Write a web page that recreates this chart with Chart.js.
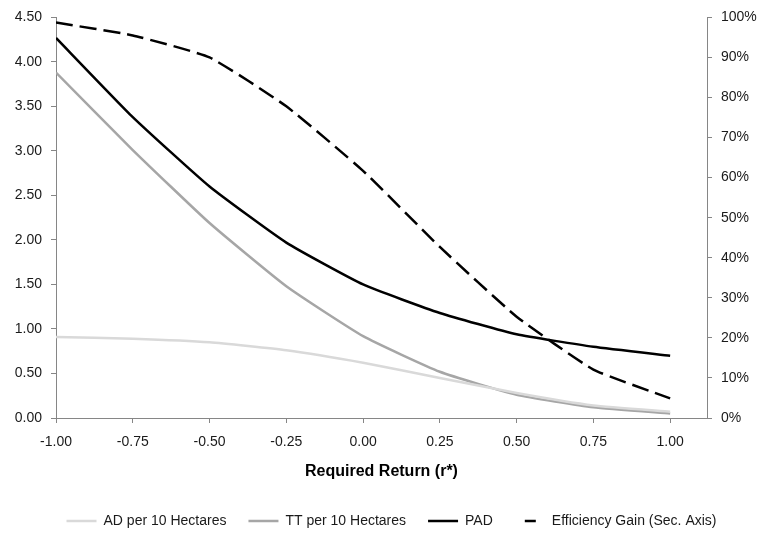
<!DOCTYPE html>
<html lang="en">
    <head>
        <meta charset="UTF-8" />
        <title>Required Return vs Efficiency Gain</title>
        <script src="https://cdn.jsdelivr.net/npm/chart.js@4"></script>
        <style>
            html, body { margin: 0; padding: 0; background: #fff; }
        </style>
    </head>
    <body>
        <canvas id="myChart" width="759" height="534"></canvas>

        <script>
            // values
            const requiredReturn = [-1, -0.75, -0.5, -0.25, 0, 0.25, 0.5, 0.75, 1];
            const adPer10Ha = [0.91, 0.89, 0.85, 0.76, 0.62, 0.45, 0.28, 0.14, 0.07];
            const ttPer10Ha = [3.88, 3.01, 2.19, 1.48, 0.92, 0.52, 0.26, 0.12, 0.05];
            const pad = [4.27, 3.38, 2.6, 1.97, 1.5, 1.18, 0.94, 0.8, 0.7];
            const efficiencyGain = [0.987, 0.955, 0.9, 0.778, 0.617, 0.427, 0.253, 0.121, 0.049];

            const axisGrey = "#868686";
            const tickFont = { family: "Liberation Sans", size: 14 };

            const toPoints = (ys) => ys.map((y, i) => ({ x: requiredReturn[i], y: y }));

            // fixed legend height so the plot area lands where the reference has it
            const legendHeightPlugin = {
                id: "legendHeight",
                beforeInit(chart) {
                    const originalFit = chart.legend.fit;
                    chart.legend.fit = function fit() {
                        originalFit.bind(chart.legend)();
                        this.height = 42;
                    };
                },
                afterLayout(chart) {
                    // the reference key sits a little right of centre
                    chart.legend.left += 12;
                    chart.legend.right += 12;
                },
            };
            Chart.register(legendHeightPlugin);

            const config = {
                type: "line",
                data: {
                    datasets: [
                        {
                            label: "AD per 10 Hectares",
                            data: toPoints(adPer10Ha),
                            borderColor: "#d9d9d9",
                            borderWidth: 2.5,
                            yAxisID: "y",
                        },
                        {
                            label: "TT per 10 Hectares",
                            data: toPoints(ttPer10Ha),
                            borderColor: "#a6a6a6",
                            borderWidth: 2.5,
                            yAxisID: "y",
                        },
                        {
                            label: "PAD",
                            data: toPoints(pad),
                            borderColor: "#000000",
                            borderWidth: 2.5,
                            yAxisID: "y",
                        },
                        {
                            label: "Efficiency Gain (Sec. Axis)",
                            data: toPoints(efficiencyGain),
                            borderColor: "#000000",
                            borderWidth: 2.5,
                            borderDash: [17, 7],
                            yAxisID: "y2",
                        },
                    ],
                },
                options: {
                    responsive: false,
                    animation: false,
                    layout: { padding: { top: 17, left: 0, right: 0, bottom: 0 } },
                    elements: {
                        point: { radius: 0, hoverRadius: 0 },
                        line: { tension: 0.15, fill: false },
                    },
                    plugins: {
                        tooltip: { enabled: false },
                        legend: {
                            position: "bottom",
                            labels: {
                                usePointStyle: true,
                                pointStyle: "line",
                                pointStyleWidth: 30,
                                boxWidth: 30,
                                padding: 22,
                                color: "#1a1a1a",
                                font: { family: "Liberation Sans", size: 14 },
                                generateLabels(chart) {
                                    const items = Chart.defaults.plugins.legend.labels.generateLabels(chart);
                                    items.forEach((item) => {
                                        item.pointStyle = "line";
                                        if (item.datasetIndex === 3) {
                                            // one centred dash, like the reference key
                                            item.lineDash = [0, 10, 11, 100];
                                        }
                                    });
                                    return items;
                                },
                            },
                        },
                    },
                    scales: {
                        x: {
                            type: "linear",
                            min: -1,
                            max: 1.12,
                            afterBuildTicks(scale) {
                                scale.ticks = requiredReturn.map((v) => ({ value: v }));
                            },
                            afterFit(scale) {
                                scale.height = 74;
                            },
                            ticks: {
                                color: "#1a1a1a",
                                font: tickFont,
                                padding: 11,
                                maxRotation: 0,
                                callback: (v) => Number(v).toFixed(2),
                            },
                            grid: {
                                drawOnChartArea: false,
                                color: axisGrey,
                                tickLength: 5,
                            },
                            border: { color: axisGrey, width: 1 },
                            title: {
                                display: true,
                                text: "Required Return (r*)",
                                color: "#000",
                                font: { family: "Liberation Sans", size: 16, weight: "bold" },
                                padding: { top: 0, bottom: 11 },
                            },
                        },
                        y: {
                            position: "left",
                            min: 0,
                            max: 4.5,
                            afterFit(scale) {
                                scale.width = 56;
                            },
                            ticks: {
                                stepSize: 0.5,
                                color: "#1a1a1a",
                                font: tickFont,
                                padding: 9,
                                callback: (v) => Number(v).toFixed(2),
                            },
                            grid: {
                                drawOnChartArea: false,
                                color: axisGrey,
                                tickLength: 5,
                            },
                            border: { color: axisGrey, width: 1 },
                        },
                        y2: {
                            position: "right",
                            min: 0,
                            max: 1,
                            afterFit(scale) {
                                scale.width = 52;
                            },
                            ticks: {
                                stepSize: 0.1,
                                color: "#1a1a1a",
                                font: tickFont,
                                padding: 9,
                                callback: (v) => Math.round(v * 100) + "%",
                            },
                            grid: {
                                drawOnChartArea: false,
                                color: axisGrey,
                                tickLength: 5,
                            },
                            border: { color: axisGrey, width: 1 },
                        },
                    },
                },
            };

            const myChart = new Chart(document.getElementById("myChart"), config);
        </script>
    </body>
</html>
